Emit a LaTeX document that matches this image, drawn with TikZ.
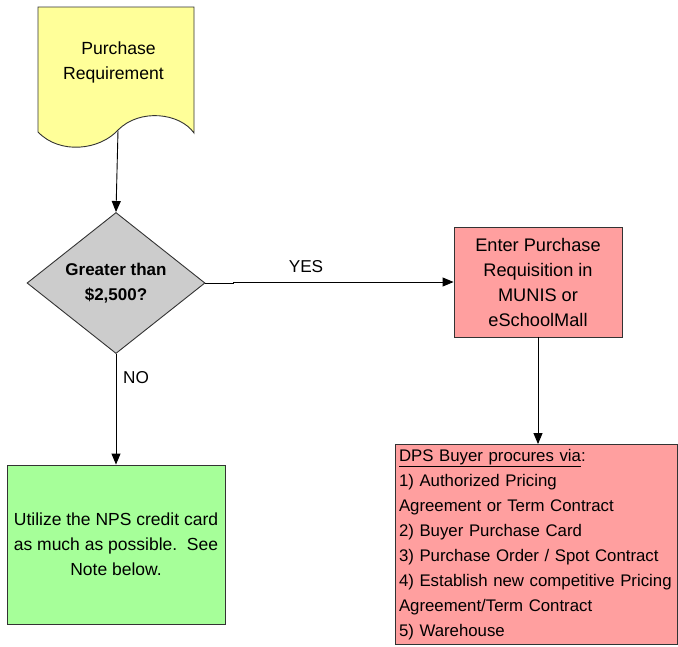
\documentclass[tikz,border=0pt]{standalone}
\usepackage{fontspec}
\setmainfont{Liberation Sans}
\usetikzlibrary{shapes.geometric,arrows.meta}
\definecolor{docyellow}{HTML}{FFFF99}
\definecolor{boxpink}{HTML}{FF9F9F}
\definecolor{boxgreen}{HTML}{A6FF99}
\definecolor{decgray}{HTML}{CCCCCC}
\definecolor{edge}{HTML}{333333}
\tikzset{
  txt/.style={font=\fontsize{16.8}{25}\selectfont, text=black},
  box/.style={txt, draw=edge, line width=0.9pt, rectangle, inner sep=0pt, align=center},
  arr/.style={line width=0.9pt, draw=black, -{Triangle[length=11pt,width=9pt]}},
  lbl/.style={txt, inner sep=0pt}
}
\begin{document}
\begin{tikzpicture}[x=1pt,y=-1pt]
\useasboundingbox (0,0) rectangle (678,646);
% document shape
\draw[fill=docyellow, draw=edge, line width=0.9pt]
  (38,7) -- (194,7) -- (194,133)
  .. controls (180,113) and (140,108) .. (118,130)
  .. controls (100,150) and (60,155) .. (38,132) -- cycle;
\node[lbl, align=center, font=\fontsize{17.6}{25}\selectfont] (doc) at (113.5,62) {\hspace*{10pt}Purchase\\Requirement};
\coordinate (docbot) at (118,130.5);
% decision
\node[diamond, draw=edge, fill=decgray, line width=0.9pt, minimum width=178pt, minimum height=140pt, inner sep=0pt,
  text=black, font=\fontsize{17}{25}\selectfont\bfseries, align=center] (dec) at (116,283) {Greater than\\\$2,500?};
% boxes
\node[box, fill=boxpink, minimum width=168pt, minimum height=110pt, font=\fontsize{18.2}{25}\selectfont] (req) at (538,282)
  {Enter Purchase\\Requisition in\\MUNIS or\\eSchoolMall};
\node[box, fill=boxpink, minimum height=200pt, text width=274pt, inner xsep=4pt, align=left] (buy) at (536,544.5)
  {\underline{DPS Buyer procures via}:\\
   1) Authorized Pricing\\
   Agreement or Term Contract\\
   2) Buyer Purchase Card\\
   3) Purchase Order / Spot Contract\\
   4) Establish new competitive Pricing\\
   Agreement/Term Contract\\
   5) Warehouse};
\node[box, fill=boxgreen, minimum width=218pt, minimum height=159pt, font=\fontsize{17.5}{25}\selectfont] (card) at (116,544.5)
  {Utilize the NPS credit card\\as much as possible.\ \ See\\Note below.};
% connectors
\draw[arr] (docbot) -- (dec.north);
\coordinate (yk1) at (233,283);
\coordinate (yk2) at (233,282);
\draw[arr] (dec.east) -- (yk1) -- (yk2) -- (req.west);
\draw[arr] (req.south) -- (buy.north -| req.south);
\draw[arr] (dec.south) -- (card.north -| dec.south);
% labels
\node[lbl, font=\fontsize{17.2}{25}\selectfont] (yes) at (306,267) {YES};
\node[lbl, font=\fontsize{17.2}{25}\selectfont] (no) at (136,378) {NO};
\end{tikzpicture}
\end{document}
